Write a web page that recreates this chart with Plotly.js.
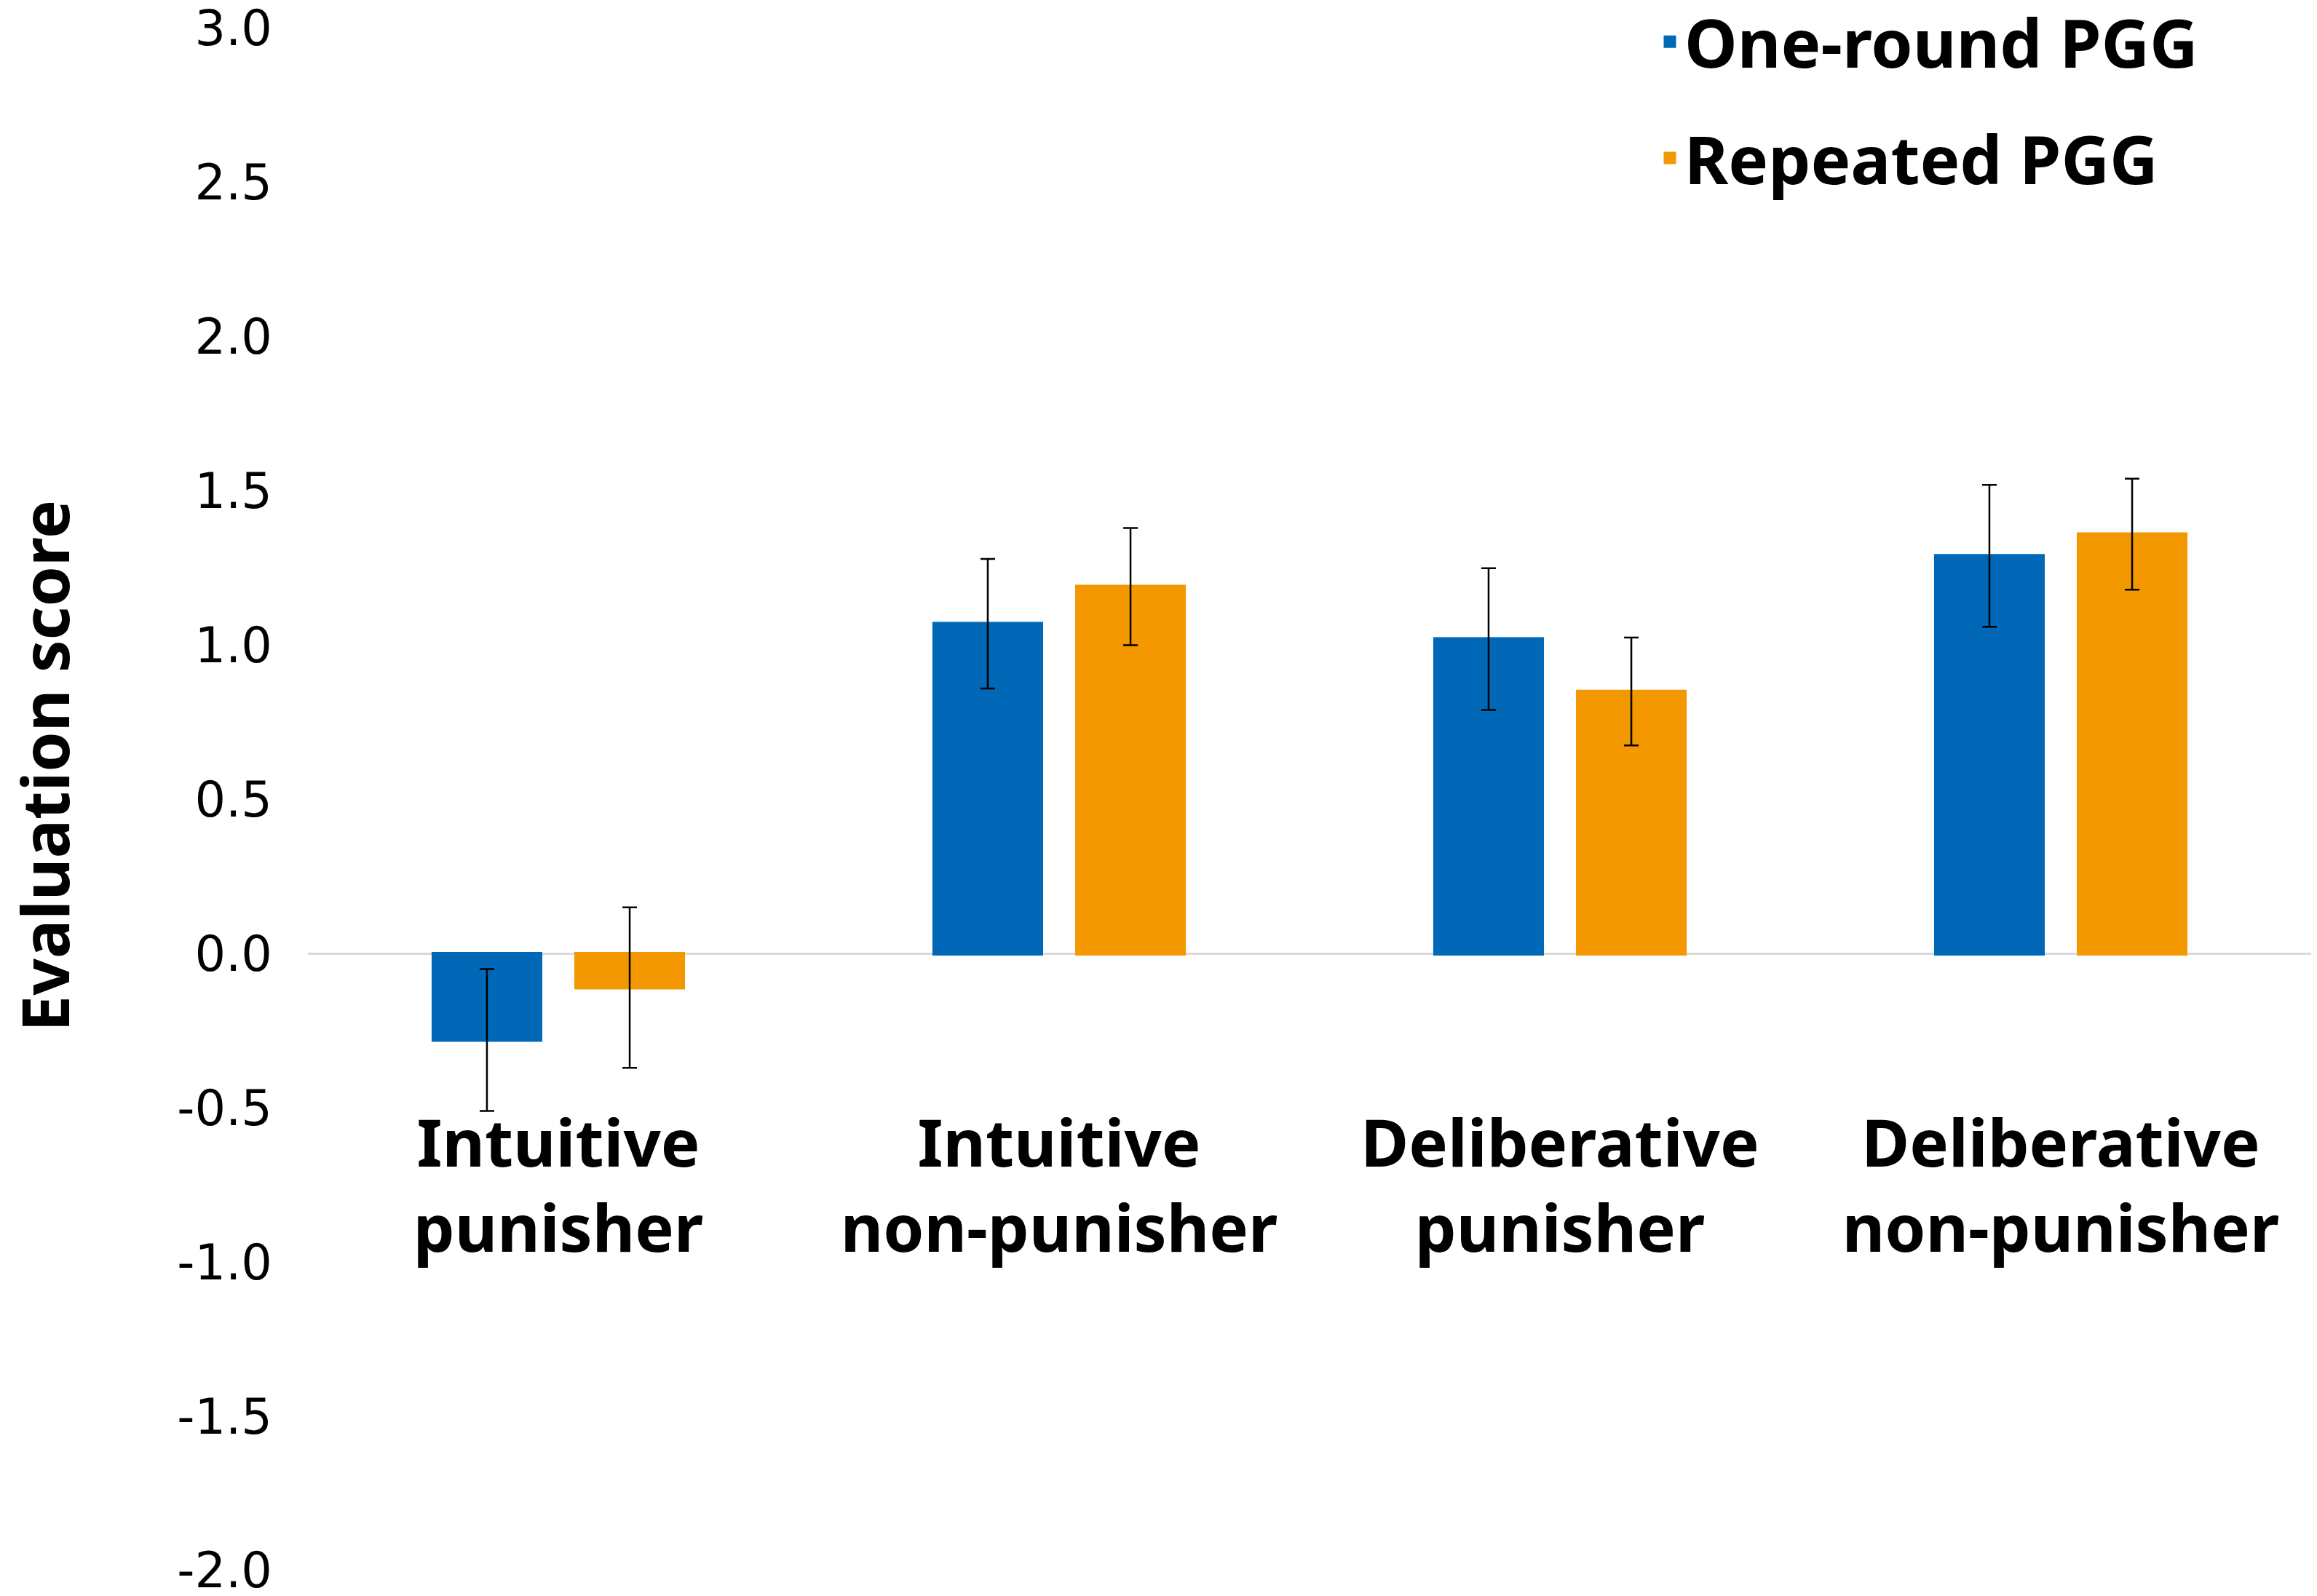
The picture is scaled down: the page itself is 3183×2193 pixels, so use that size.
<!DOCTYPE html>
<html>
<head>
<meta charset="utf-8">
<script src="https://cdn.plot.ly/plotly-3.0.1.min.js"></script>
<style>
  html, body { margin: 0; padding: 0; background: #ffffff; }
  #chart { width: 3183px; height: 2193px; }
</style>
</head>
<body>
<div id="chart"></div>
<script>
// ---- Data ----
const categories = [
  "Intuitive<br>punisher",
  "Intuitive<br>non-punisher",
  "Deliberative<br>punisher",
  "Deliberative<br>non-punisher"
];
const seriesNames = ["One-round PGG", "Repeated PGG"];
const oneRoundValues = [-0.28, 1.07, 1.02, 1.29];
const oneRoundErrors = [0.23, 0.21, 0.23, 0.23];
const repeatedValues = [-0.11, 1.19, 0.85, 1.36];
const repeatedErrors = [0.26, 0.19, 0.175, 0.18];
const yTickValues = [3.0, 2.5, 2.0, 1.5, 1.0, 0.5, 0.0, -0.5, -1.0, -1.5, -2.0];
const yTickLabels = ["3.0", "2.5", "2.0", "1.5", "1.0", "0.5", "0.0", "-0.5", "-1.0", "-1.5", "-2.0"];
const yTitle = "Evaluation score";

// ---- Styles ----
const BLUE = "#0068B7";
const ORANGE = "#F39800";
const catFont = { family: "Noto Sans, DejaVu Sans, sans-serif", size: 90, color: "#000000", weight: 700 };
const legendFont = { family: "Noto Sans, DejaVu Sans, sans-serif", size: 92, color: "#000000", weight: 700 };

const traces = [
  {
    type: "bar",
    name: seriesNames[0],
    x: categories,
    y: oneRoundValues,
    marker: { color: BLUE, line: { color: BLUE, width: 5 } },
    error_y: { type: "data", array: oneRoundErrors, visible: true, color: "#000000", thickness: 2.5, width: 10 },
    legendgroup: "g1"
  },
  {
    type: "bar",
    name: seriesNames[1],
    x: categories,
    y: repeatedValues,
    marker: { color: ORANGE, line: { color: ORANGE, width: 5 } },
    error_y: { type: "data", array: repeatedErrors, visible: true, color: "#000000", thickness: 2.5, width: 10 },
    legendgroup: "g2"
  }
];

const yMin = -2.0, yMax = 3.0;
const W = 3183, H = 2193;
const M = { l: 423, r: 8, t: 39, b: 35 };
const plotW = W - M.l - M.r, plotH = H - M.t - M.b;

const layout = {
  width: W,
  height: H,
  paper_bgcolor: "#ffffff",
  plot_bgcolor: "#ffffff",
  margin: { l: M.l, r: M.r, t: M.t, b: M.b, pad: 0, autoexpand: false },
  barmode: "group",
  bargap: 0.43,
  bargroupgap: 0.25,
  showlegend: true,
  legend: {
    xref: "paper", yref: "paper",
    x: (2274 - M.l) / plotW,
    y: 1 + (M.t + 9) / plotH,
    xanchor: "left", yanchor: "top",
    font: legendFont,
    tracegroupgap: 37,
    bgcolor: "rgba(0,0,0,0)"
  },
  xaxis: {
    type: "category",
    anchor: "free",
    position: (0 - yMin) / (yMax - yMin),
    showline: false,
    showgrid: false,
    zeroline: false,
    ticks: "",
    tickangle: 0,
    tickfont: catFont,
    ticklabelstandoff: 202,
    automargin: false
  },
  yaxis: {
    range: [yMin, yMax],
    tickvals: yTickValues,
    ticktext: yTickLabels,
    showgrid: false,
    zeroline: true,
    zerolinecolor: "#D9D9D9",
    zerolinewidth: 3,
    showline: false,
    ticks: "",
    ticklabelstandoff: 48,
    ticklabeloverflow: "allow",
    tickfont: { family: "DejaVu Sans, sans-serif", size: 67, color: "#000000" },
    title: {
      text: "&nbsp;&nbsp;&nbsp;&nbsp;" + yTitle,
      font: { family: "Noto Sans, DejaVu Sans, sans-serif", size: 89, color: "#000000", weight: 700 },
      standoff: 181
    },
    automargin: false
  }
};

Plotly.newPlot("chart", traces, layout, { displayModeBar: false, staticPlot: true });
</script>
</body>
</html>
